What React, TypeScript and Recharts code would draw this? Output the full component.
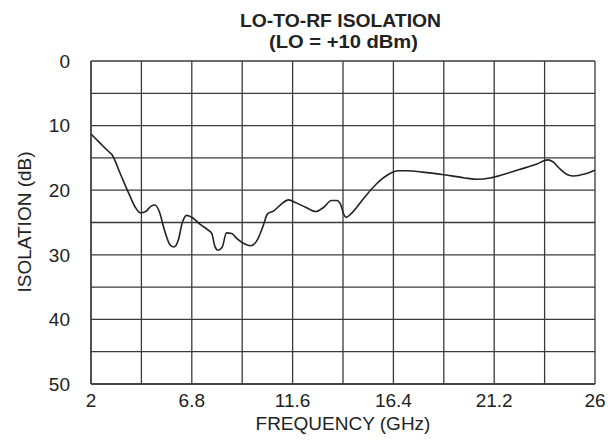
import React from 'react';
import { LineChart, Line, XAxis, YAxis, CartesianGrid } from 'recharts';

// LO-to-RF isolation vs frequency
const freqGHz = [
  2.0, 2.4, 2.8, 3.0, 3.4, 3.8, 4.1, 4.35, 4.6, 4.85, 5.05, 5.25, 5.5, 5.75, 5.95,
  6.15, 6.35, 6.55, 6.85, 7.2, 7.55, 7.75, 7.9, 8.05, 8.25, 8.45, 8.7, 8.95, 9.3,
  9.6, 9.9, 10.2, 10.4, 10.7, 11.05, 11.4, 11.8, 12.2, 12.7, 13.1, 13.45, 13.7,
  13.9, 14.0, 14.15, 14.4, 15.0, 15.6, 16.2, 16.6, 17.0, 17.8, 18.8, 19.8, 20.4,
  21.0, 21.6, 22.4, 23.2, 23.75, 24.0, 24.3, 24.7, 25.0, 25.5, 26.0,
];
const isolationDb = [
  11.3, 12.6, 13.9, 14.5, 17.5, 20.5, 22.6, 23.5, 23.3, 22.5, 22.3, 23.3, 26.2, 28.4, 28.8,
  27.8, 25.0, 23.9, 24.3, 25.3, 26.1, 26.7, 28.7, 29.3, 28.8, 26.6, 26.7, 27.5, 28.3,
  28.6, 27.8, 25.5, 23.7, 23.2, 22.2, 21.5, 22.0, 22.6, 23.3, 22.6, 21.6, 21.6,
  22.3, 23.4, 24.2, 23.6, 21.2, 19.0, 17.5, 17.0, 17.0, 17.2, 17.6, 18.1, 18.3,
  18.1, 17.6, 16.8, 16.0, 15.3, 15.6, 16.6, 17.6, 17.8, 17.5, 16.9,
];

const xGrid = [2, 4.4, 6.8, 9.2, 11.6, 14, 16.4, 18.8, 21.2, 23.6, 26];
const xLabels = ['2', '6.8', '11.6', '16.4', '21.2', '26'];
const yGrid = [0, 5, 10, 15, 20, 25, 30, 35, 40, 45, 50];
const yLabels = ['0', '10', '20', '30', '40', '50'];

const data = freqGHz.map((f, i) => ({ freq: f, iso: isolationDb[i] }));

const font = '"Liberation Sans", Arial, sans-serif';
const tickStyle = { fontSize: 19, fill: '#222', fontFamily: font };

export default function App() {
  return (
    <div style={{ position: 'absolute', left: 0, top: 0, width: 610, height: 443, background: '#fff' }}>
      <svg width={610} height={60} style={{ position: 'absolute', left: 0, top: 0 }}>
        <text textAnchor="middle" fontFamily={font} fontWeight="bold" fontSize={19} fill="#222">
          <tspan x={340.5} y={26.5} textLength={201} lengthAdjust="spacingAndGlyphs">
            LO-TO-RF ISOLATION
          </tspan>
          <tspan x={343.5} y={48} textLength={149} lengthAdjust="spacingAndGlyphs">
            (LO = +10 dBm)
          </tspan>
        </text>
      </svg>
      <LineChart width={610} height={443} data={data} margin={{ top: 61, right: 15, bottom: 0, left: 0 }}>
        <CartesianGrid stroke="#3a3a3a" strokeWidth={1.3} />
        <XAxis
          type="number"
          dataKey="freq"
          domain={[2, 26]}
          ticks={xGrid}
          interval={0}
          height={59}
          tickSize={0}
          tickMargin={10}
          axisLine={{ stroke: '#3a3a3a', strokeWidth: 1.3 }}
          tick={tickStyle}
          tickFormatter={(v: number) => (xLabels.includes(String(v)) ? String(v) : '')}
          label={{ value: 'FREQUENCY (GHz)', position: 'insideBottom', offset: 13, style: { ...tickStyle } }}
        />
        <YAxis
          type="number"
          domain={[0, 50]}
          reversed
          ticks={yGrid}
          interval={0}
          width={91}
          tickSize={0}
          tickMargin={21}
          axisLine={{ stroke: '#3a3a3a', strokeWidth: 1.3 }}
          tick={tickStyle}
          tickFormatter={(v: number) => (yLabels.includes(String(v)) ? String(v) : '')}
          label={{
            content: () => (
              <text x={31} y={222} transform="rotate(-90 31 222)" textAnchor="middle"
                fontSize={19} fill="#222" fontFamily={font}>
                ISOLATION (dB)
              </text>
            ),
          }}
        />
        <Line
          type="monotone"
          dataKey="iso"
          stroke="#222"
          strokeWidth={1.6}
          dot={false}
          isAnimationActive={false}
        />
      </LineChart>
    </div>
  );
}
